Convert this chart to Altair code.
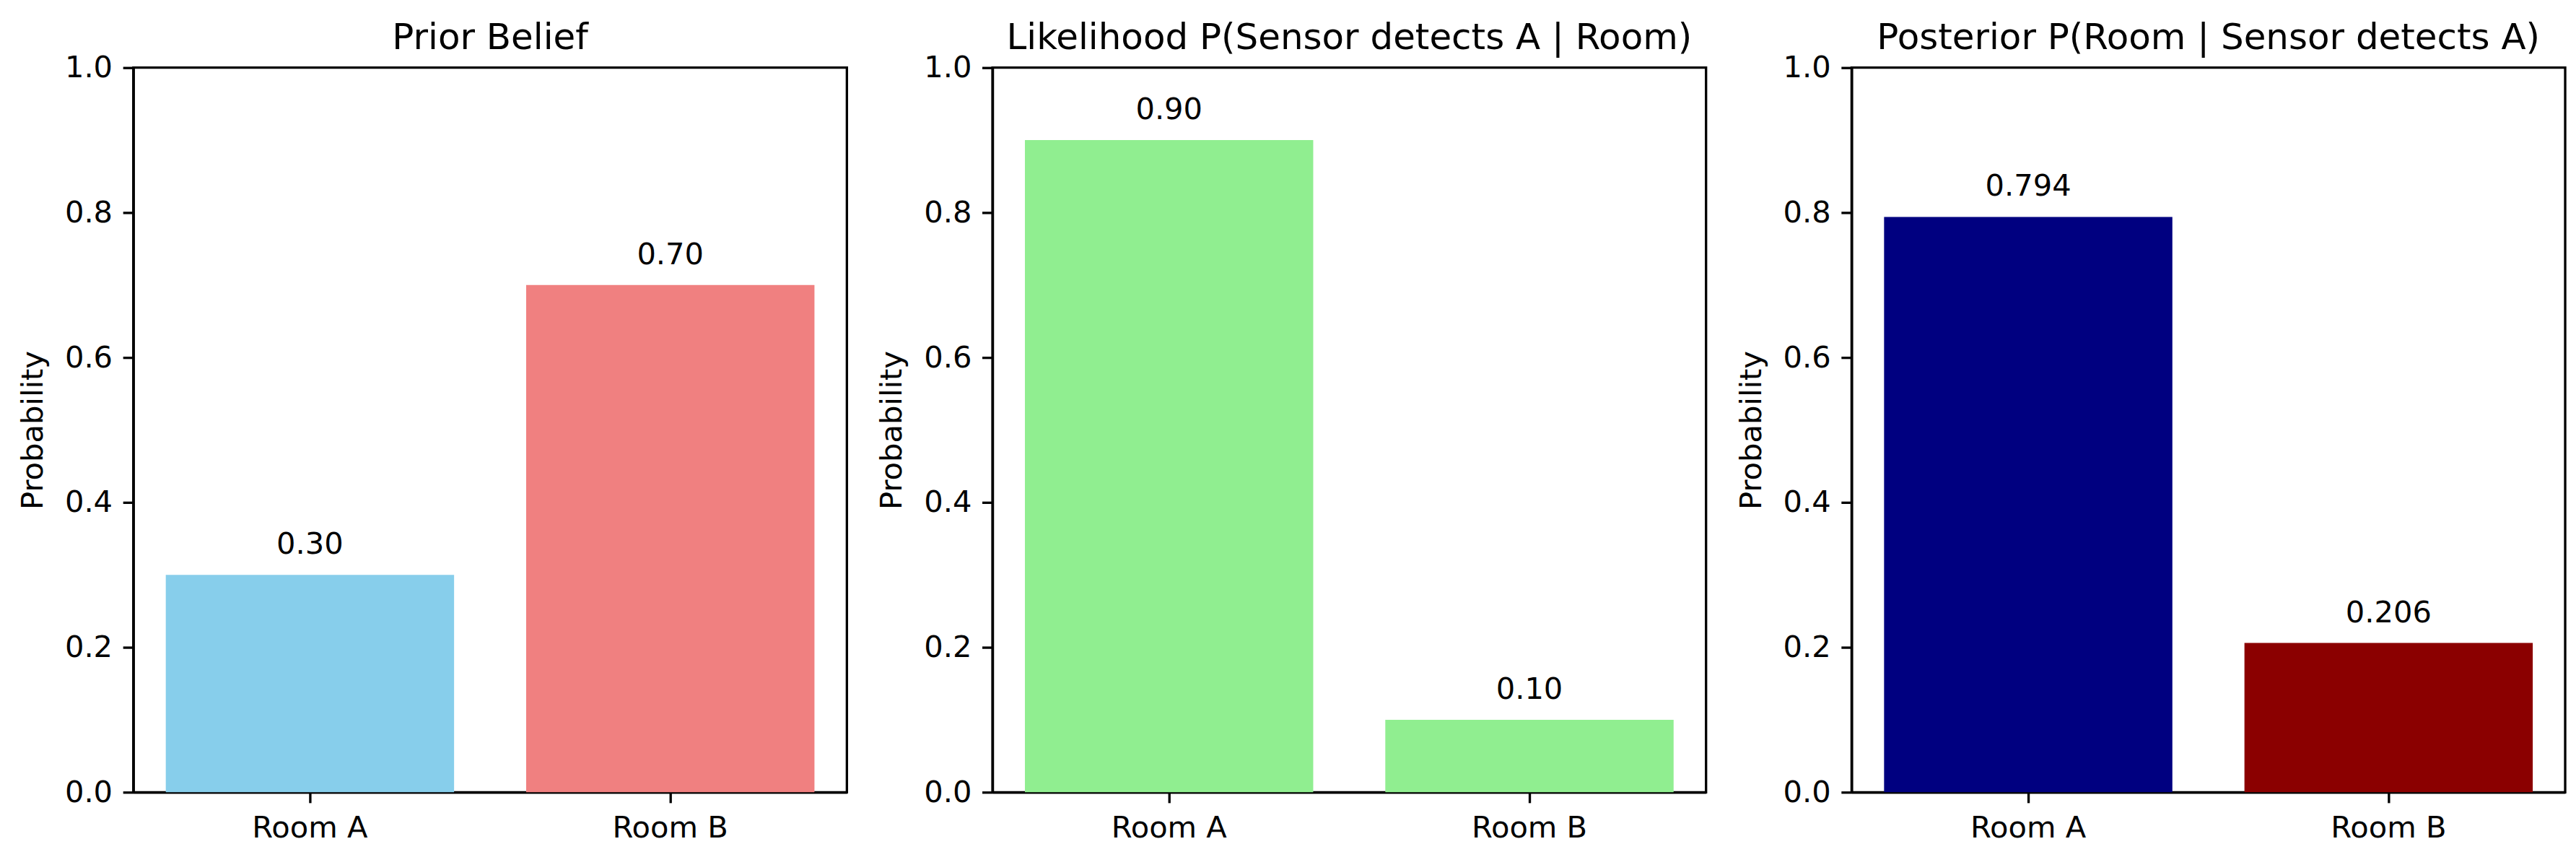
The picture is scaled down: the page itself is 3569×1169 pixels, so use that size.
import altair as alt
import pandas as pd

rooms = ["Room A", "Room B"]
prior = [0.30, 0.70]
likelihood = [0.90, 0.10]
posterior = [0.794, 0.206]
prior_colors = ["#87CEEB", "#F08080"]
likelihood_colors = ["#90EE90", "#90EE90"]
posterior_colors = ["#000080", "#8B0000"]
titles = [
    "Prior Belief",
    "Likelihood P(Sensor detects A | Room)",
    "Posterior P(Room | Sensor detects A)",
]
label_formats = [".2f", ".2f", ".3f"]
y_ticks = [0.0, 0.2, 0.4, 0.6, 0.8, 1.0]

FONT = "DejaVu Sans"
FS = 41.67
LW = 3.33
W, H = 990, 1005


def panel(values, colors, title, fmt):
    df = pd.DataFrame({"room": rooms, "value": values})
    base = alt.Chart(df).encode(
        x=alt.X(
            "room:N",
            sort=rooms,
            scale=alt.Scale(paddingInner=0.2, paddingOuter=0.09),
            axis=alt.Axis(title=None, labelAngle=0),
        ),
        y=alt.Y(
            "value:Q",
            scale=alt.Scale(domain=[0, 1], nice=False, zero=True),
            axis=alt.Axis(title="Probability", values=y_ticks, format=".1f"),
        ),
    )
    bars = base.mark_bar().encode(
        color=alt.Color(
            "room:N", scale=alt.Scale(domain=rooms, range=colors), legend=None
        )
    )
    text = base.mark_text(
        baseline="bottom", dy=-20, fontSize=FS, font=FONT, color="black"
    ).encode(text=alt.Text("value:Q", format=fmt))
    return alt.layer(bars, text).properties(
        width=W,
        height=H,
        title=alt.TitleParams(
            title,
            fontSize=50,
            font=FONT,
            fontWeight="normal",
            color="black",
            anchor="middle",
            baseline="alphabetic",
            offset=-44,
        ),
    )


chart = (
    alt.hconcat(
        panel(prior, prior_colors, titles[0], label_formats[0]),
        panel(likelihood, likelihood_colors, titles[1], label_formats[1]),
        panel(posterior, posterior_colors, titles[2], label_formats[2]),
        spacing=38,
    )
    .resolve_scale(color="independent")
    .properties(padding={"left": 15, "top": 17, "right": 5, "bottom": 5}, background="white")
    .configure_view(stroke="black", strokeWidth=LW)
    .configure_axis(
        grid=False,
        domainColor="black",
        domainWidth=LW,
        tickColor="black",
        tickWidth=LW,
        tickSize=14.6,
        labelPadding=14.6,
        labelColor="black",
        labelFont=FONT,
        labelFontSize=FS,
        titleFont=FONT,
        titleFontSize=FS,
        titleFontWeight="normal",
        titleColor="black",
        titlePadding=22,
    )
)

chart.save("out.html", embed_options={"renderer": "svg", "actions": False})
